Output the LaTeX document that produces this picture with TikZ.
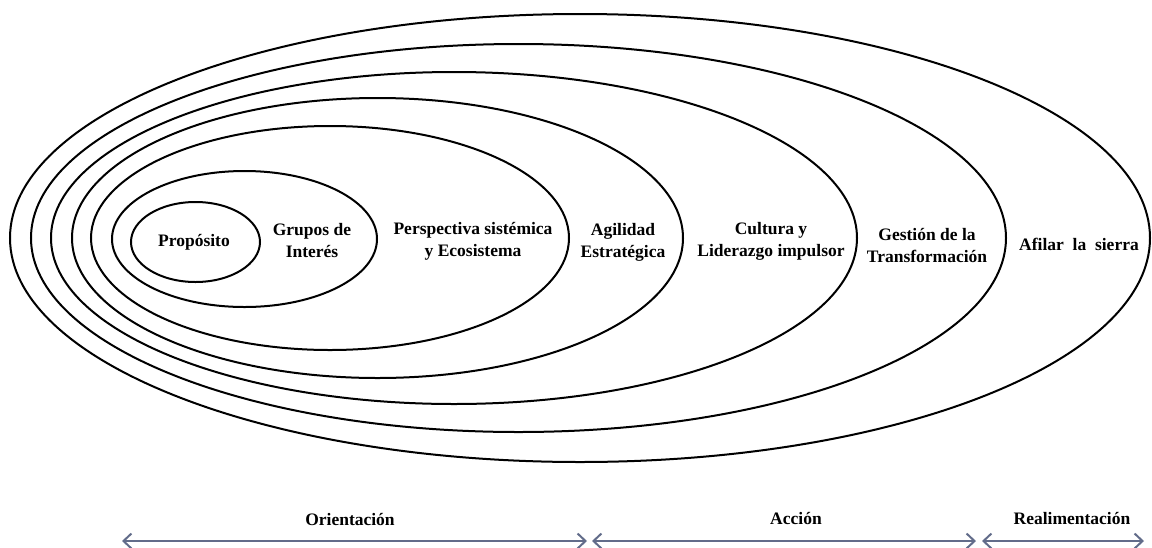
\documentclass[tikz,border=0pt]{standalone}
\usepackage{fontspec}
\setmainfont{Liberation Serif}
\usetikzlibrary{shapes.geometric,arrows.meta}
\definecolor{spanblue}{RGB}{98,108,138}
\begin{document}
\begin{tikzpicture}[x=1pt,y=-1pt,
  ring/.style={draw=black, line width=2pt, ellipse, inner sep=0pt, outer sep=0pt},
  lbl/.style={font=\fontsize{17.5}{22}\selectfont\bfseries, align=center, inner sep=0pt},
  span/.style={draw=spanblue, line width=2.4pt,
    {Straight Barb[length=8pt,width=15pt,line width=2pt]}-{Straight Barb[length=8pt,width=15pt,line width=2pt]}}]
\useasboundingbox (0,0) rectangle (1152,547);

% nested rings, outermost first
\node[ring, minimum width=1140pt, minimum height=448pt] (afilar)  at (580,238) {};
\node[ring, minimum width=975pt,  minimum height=388pt] (gestion) at (518.5,238) {};
\node[ring, minimum width=806pt,  minimum height=332pt] (cultura) at (454,238) {};
\node[ring, minimum width=611pt,  minimum height=280pt] (agil)    at (377.5,238) {};
\node[ring, minimum width=478pt,  minimum height=224pt] (persp)   at (330,238) {};
\node[ring, minimum width=265pt,  minimum height=136pt] (grupos)  at (244.5,239) {};
\node[ring, minimum width=129pt,  minimum height=80pt]  (prop)    at (195.5,242) {};

% ring labels
\node[lbl] (tprop)    at (194,242)  {Propósito};
\node[lbl] (tgrupos)  at (312,241)  {Grupos de\\Interés};
\node[lbl] (tpersp)   at (473,241)  {Perspectiva sistémica\\y Ecosistema};
\node[lbl] (tagil)    at (623,242)  {Agilidad\\Estratégica};
\node[lbl] (tcultura) at (771,241)  {Cultura y\\Liderazgo impulsor};
\node[lbl] (tgestion) at (927,245)  {Gestión de la\\Transformación};
\node[lbl] (tafilar)  at (1079,244) {Afilar\ \ la\ \ sierra};

% phase spans along the bottom
\coordinate (o1) at (122,541);
\coordinate (o2) at (587,541);
\coordinate (a1) at (592,541);
\coordinate (a2) at (976,541);
\coordinate (r1) at (982,541);
\coordinate (r2) at (1144,541);
\draw[span] (o1) -- (o2);
\draw[span] (a1) -- (a2);
\draw[span] (r1) -- (r2);

\node[lbl] (torient) at (350,519)  {Orientación};
\node[lbl] (taccion) at (796,518)  {Acción};
\node[lbl] (trealim) at (1072,518) {Realimentación};
\end{tikzpicture}
\end{document}
